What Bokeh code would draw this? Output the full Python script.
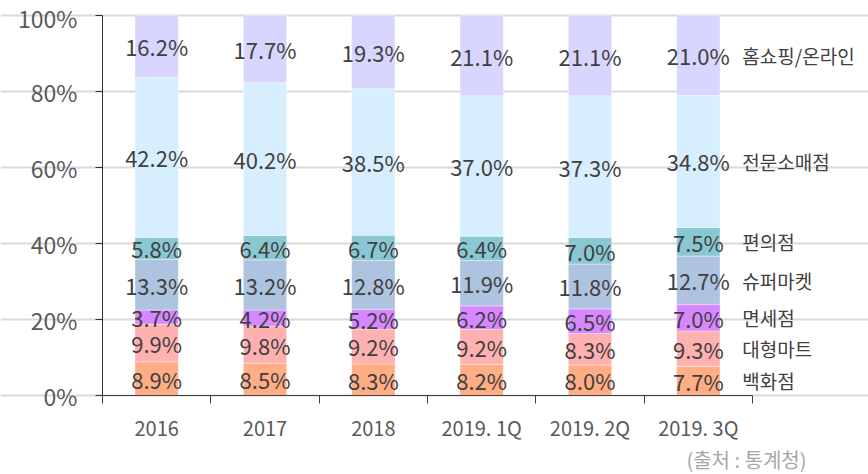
import numpy as np
from bokeh.plotting import figure
from bokeh.models import ColumnDataSource, LabelSet, Label, FixedTicker, Range1d
from bokeh.core.properties import value
from bokeh.embed import file_html
from bokeh.resources import INLINE

categories = ["2016", "2017", "2018", "2019. 1Q", "2019. 2Q", "2019. 3Q"]
series_names = ["백화점", "대형마트", "면세점", "슈퍼마켓", "편의점", "전문소매점", "홈쇼핑/온라인"]
dept_store = [8.9, 8.5, 8.3, 8.2, 8.0, 7.7]
hypermarket = [9.9, 9.8, 9.2, 9.2, 8.3, 9.3]
duty_free = [3.7, 4.2, 5.2, 6.2, 6.5, 7.0]
supermarket = [13.3, 13.2, 12.8, 11.9, 11.8, 12.7]
convenience = [5.8, 6.4, 6.7, 6.4, 7.0, 7.5]
specialty = [42.2, 40.2, 38.5, 37.0, 37.3, 34.8]
online = [16.2, 17.7, 19.3, 21.1, 21.1, 21.0]
colors = ["#FFAD85", "#FFB0B0", "#D787FF", "#ADC3DF", "#89C8D3", "#D7EEFF", "#D8D5FF"]
y_ticks = [0, 20, 40, 60, 80, 100]
source_note = "(출처 : 통계청)"

FONT = "Noto Sans CJK KR"
series = [dept_store, hypermarket, duty_free, supermarket, convenience, specialty, online]
keys = [f"s{i}" for i in range(len(series))]
ncat = len(categories)
xpos = [i + 0.5 for i in range(ncat)]

W, H = 868, 474
# frame covers the whole canvas; axes are pinned at data 0
px_per_x = 650 / ncat
px_per_y = 380 / 100
x_start = -102 / px_per_x
x_end = ncat + (W - 752) / px_per_x
y_start = -(H - 395) / px_per_y
y_end = 100 + 15 / px_per_y

data = {"x": xpos}
for k, s in zip(keys, series):
    data[k] = s
src = ColumnDataSource(data)

p = figure(width=W, height=H, output_backend="svg", toolbar_location=None,
           x_range=Range1d(x_start, x_end), y_range=Range1d(y_start, y_end),
           min_border=0)
p.outline_line_color = None
p.background_fill_color = "white"

p.vbar_stack(keys, x="x", width=0.4, source=src, fill_color=colors,
             line_color="white", line_width=0.6, line_alpha=0.6)

# value labels
arr = np.array(series)
cum = np.cumsum(arr, axis=0)
centers = cum - arr / 2
lx, ly, lt = [], [], []
for i in range(arr.shape[0]):
    for j in range(arr.shape[1]):
        lx.append(xpos[j]); ly.append(centers[i, j]); lt.append(f"{arr[i, j]:.1f}%")
lsrc = ColumnDataSource(dict(x=lx, y=ly, t=lt))
p.add_layout(LabelSet(x="x", y="y", text="t", source=lsrc, text_font=value(FONT),
                      text_font_size="22px", text_color="#404040",
                      text_align="center", text_baseline="middle"))

# series names at right
nsrc = ColumnDataSource(dict(x=[xpos[-1]] * len(series_names), y=list(centers[:, -1]), t=series_names))
p.add_layout(LabelSet(x="x", y="y", text="t", source=nsrc, x_offset=44, text_font=value(FONT),
                      text_font_size="19px", text_color="#404040",
                      text_align="left", text_baseline="middle"))

# axes
p.xaxis.fixed_location = 0
p.xaxis.bounds = (0, ncat)
p.xaxis.ticker = FixedTicker(ticks=xpos, minor_ticks=list(range(ncat + 1)))
p.xaxis.major_label_overrides = {x: c for x, c in zip(xpos, categories)}
p.xaxis.major_tick_in = 0
p.xaxis.major_tick_out = 0
p.xaxis.minor_tick_in = 0
p.xaxis.minor_tick_out = 8
p.xaxis.minor_tick_line_color = "#404040"
p.xaxis.axis_line_color = "#404040"
p.xaxis.major_label_text_font = FONT
p.xaxis.major_label_text_font_size = "20px"
p.xaxis.major_label_text_color = "#595959"
p.xaxis.major_label_standoff = 9

p.yaxis.fixed_location = 0
p.yaxis.bounds = (0, 100)
p.yaxis.ticker = FixedTicker(ticks=y_ticks)
p.yaxis.major_label_overrides = {t: f"{t}%" for t in y_ticks}
p.yaxis.major_tick_in = 0
p.yaxis.major_tick_out = 7
p.yaxis.minor_tick_line_color = None
p.yaxis.axis_line_color = "#303030"
p.yaxis.major_tick_line_color = "#303030"
p.yaxis.major_label_text_font = FONT
p.yaxis.major_label_text_font_size = "23px"
p.yaxis.major_label_text_color = "#595959"
p.yaxis.major_label_standoff = 18

p.xgrid.grid_line_color = None
p.ygrid.grid_line_color = "#D9D9D9"
p.ygrid.grid_line_width = 2
p.ygrid.bounds = (0, ncat)

p.add_layout(Label(x=ncat, y=y_start, x_offset=54, y_offset=1, text=source_note,
                   text_font=FONT, text_font_size="20px", text_color="#A6A6A6",
                   text_align="right", text_baseline="bottom"))

open("out.html", "w").write(file_html(p, INLINE))
